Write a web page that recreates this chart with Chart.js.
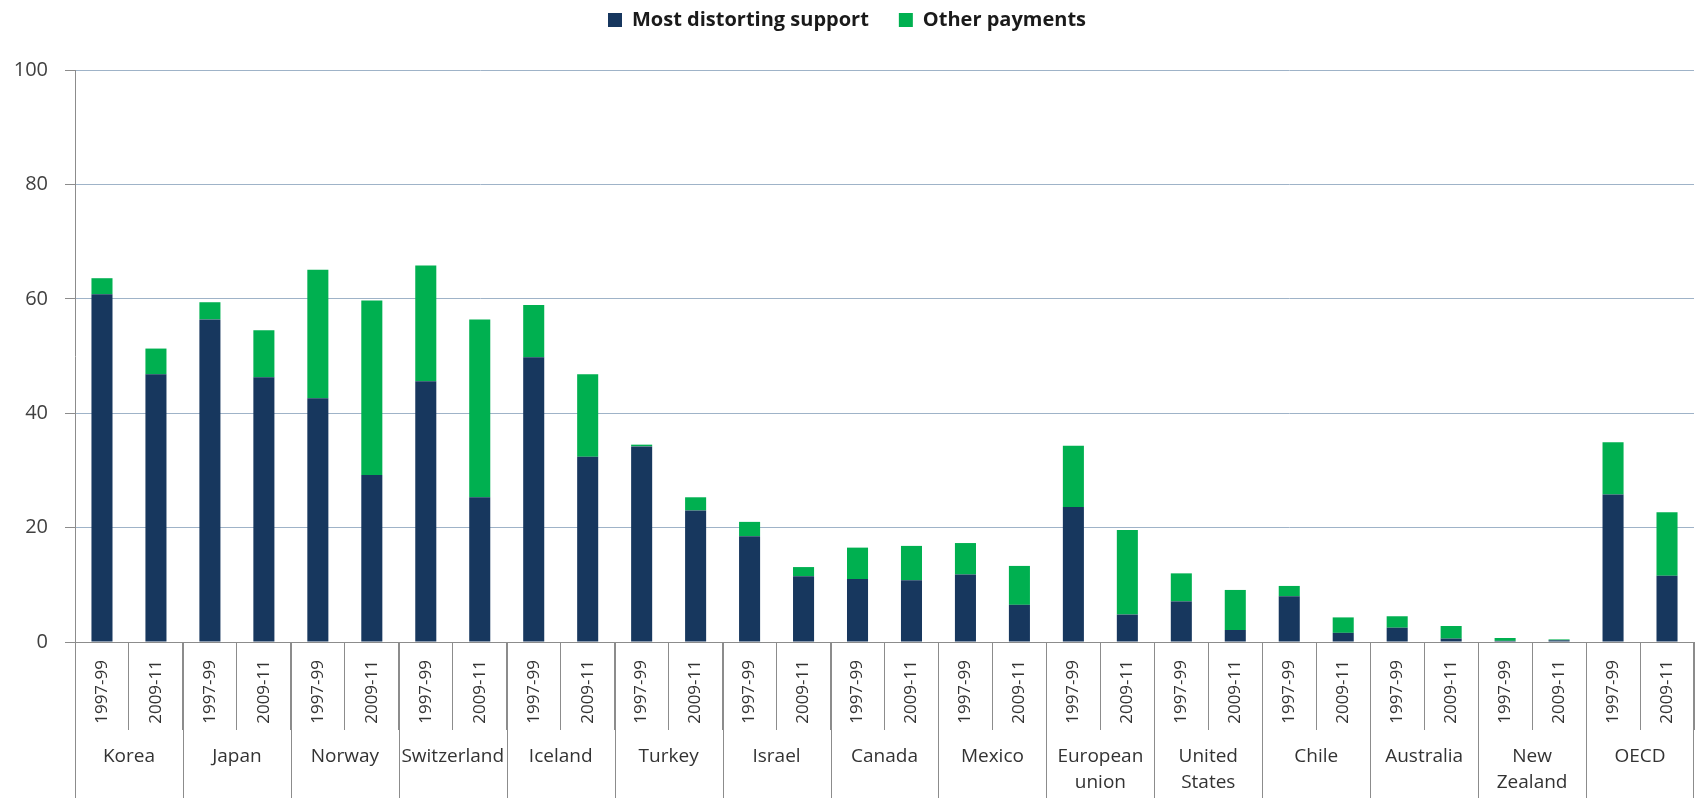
<!DOCTYPE html>
<html>
<head>
<meta charset="utf-8">
<script src="https://cdn.jsdelivr.net/npm/chart.js@4.4.0/dist/chart.umd.min.js"></script>
<style>
  html, body { margin: 0; padding: 0; background: #ffffff; }
  #wrap { width: 1696px; height: 798px; position: relative; }
</style>
</head>
<body>
<div id="wrap"><canvas id="chart"></canvas></div>
<script>
// Producer support by country, two periods per country (% of gross farm receipts)
const periods = ['1997-99', '2009-11'];
const countries = [
  ['Korea'], ['Japan'], ['Norway'], ['Switzerland'], ['Iceland'], ['Turkey'],
  ['Israel'], ['Canada'], ['Mexico'], ['European', 'union'], ['United', 'States'],
  ['Chile'], ['Australia'], ['New', 'Zealand'], ['OECD']
];
const yTicks = [0, 20, 40, 60, 80, 100];

// Values listed country by country: 1997-99, 2009-11
const mostDistorting = [
  60.8, 46.8,  56.4, 46.3,  42.6, 29.2,  45.6, 25.3,  49.8, 32.4,
  34.2, 23.0,  18.5, 11.5,  11.0, 10.8,  11.8, 6.5,   23.6, 4.8,
  7.1, 2.1,    8.0, 1.6,    2.5, 0.6,    0.2, 0.3,    25.8, 11.6
];
const otherPayments = [
  2.8, 4.5,    3.0, 8.2,    22.5, 30.5,  20.2, 31.1,  9.1, 14.4,
  0.3, 2.3,    2.5, 1.6,    5.5, 6.0,    5.5, 6.8,    10.7, 14.8,
  4.9, 7.0,    1.8, 2.7,    2.0, 2.2,    0.5, 0.15,   9.1, 11.1
];

const seriesNames = ['Most distorting support', 'Other payments'];
const seriesColors = ['#17375E', '#00B050'];

const labels = countries.flatMap(() => periods);
const axisGrey = '#8c8c8c';

// Extra room between the legend row and the plot area
const legendGapPlugin = {
  id: 'legendGap',
  beforeInit(chart) {
    const origFit = chart.legend.fit;
    chart.legend.fit = function () {
      origFit.call(this);
      this.height += 30;
    };
  }
};

// Long separators between country groups and the country names underneath the period labels
const groupAxisPlugin = {
  id: 'groupAxis',
  afterDraw(chart) {
    const xs = chart.scales.x;
    const ctx = chart.ctx;
    const step = xs.width / labels.length;
    ctx.save();
    ctx.strokeStyle = axisGrey;
    ctx.lineWidth = 1;
    for (let g = 0; g <= countries.length; g++) {
      const x = g < countries.length
        ? Math.round(xs.getPixelForValue(g * 2) - step / 2) + 0.5
        : Math.round(xs.getPixelForValue(g * 2 - 1) + step / 2) - 0.5;
      ctx.beginPath();
      ctx.moveTo(x, xs.top);
      ctx.lineTo(x, chart.height);
      ctx.stroke();
    }
    ctx.fillStyle = '#333333';
    ctx.font = '19px "Open Sans"';
    ctx.textAlign = 'center';
    ctx.textBaseline = 'middle';
    countries.forEach((lines, g) => {
      const cx = (xs.getPixelForValue(g * 2) + xs.getPixelForValue(g * 2 + 1)) / 2;
      lines.forEach((txt, k) => {
        ctx.fillText(txt, cx, xs.top + 115 + k * 26);
      });
    });
    ctx.restore();
  }
};

new Chart(document.getElementById('chart'), {
  type: 'bar',
  data: {
    labels: labels,
    datasets: [
      { label: seriesNames[0], data: mostDistorting, backgroundColor: seriesColors[0] },
      { label: seriesNames[1], data: otherPayments, backgroundColor: seriesColors[1] }
    ]
  },
  options: {
    responsive: true,
    maintainAspectRatio: false,
    animation: false,
    devicePixelRatio: 1,
    barPercentage: 0.39,
    categoryPercentage: 1,
    layout: { padding: { left: 0, right: 2, top: -20, bottom: 0 } },
    plugins: {
      legend: {
        position: 'top',
        labels: {
          boxWidth: 14,
          boxHeight: 14,
          padding: 30,
          color: '#1a1a1a',
          font: { family: 'Open Sans', size: 20, weight: 'bold' }
        }
      },
      tooltip: { enabled: false }
    },
    scales: {
      x: {
        stacked: true,
        grid: {
          offset: true,
          drawOnChartArea: false,
          drawTicks: true,
          tickLength: 88,
          color: axisGrey,
          lineWidth: 1
        },
        border: { display: true, color: axisGrey },
        ticks: {
          autoSkip: false,
          minRotation: 90,
          maxRotation: 90,
          padding: -70,
          color: '#333333',
          font: { family: 'Open Sans', size: 17 }
        },
        afterFit(scale) { scale.height = 156; }
      },
      y: {
        stacked: true,
        min: 0,
        max: 100,
        afterBuildTicks(scale) { scale.ticks = yTicks.map(v => ({ value: v })); },
        ticks: {
          padding: 17,
          color: '#404040',
          font: { family: 'Open Sans', size: 20 }
        },
        grid: {
          color: '#9fb3c8',
          tickColor: axisGrey,
          tickLength: 10,
          lineWidth: 1
        },
        border: { display: true, color: axisGrey },
        afterFit(scale) { scale.width = 75; }
      }
    }
  },
  plugins: [legendGapPlugin, groupAxisPlugin]
});
</script>
</body>
</html>
